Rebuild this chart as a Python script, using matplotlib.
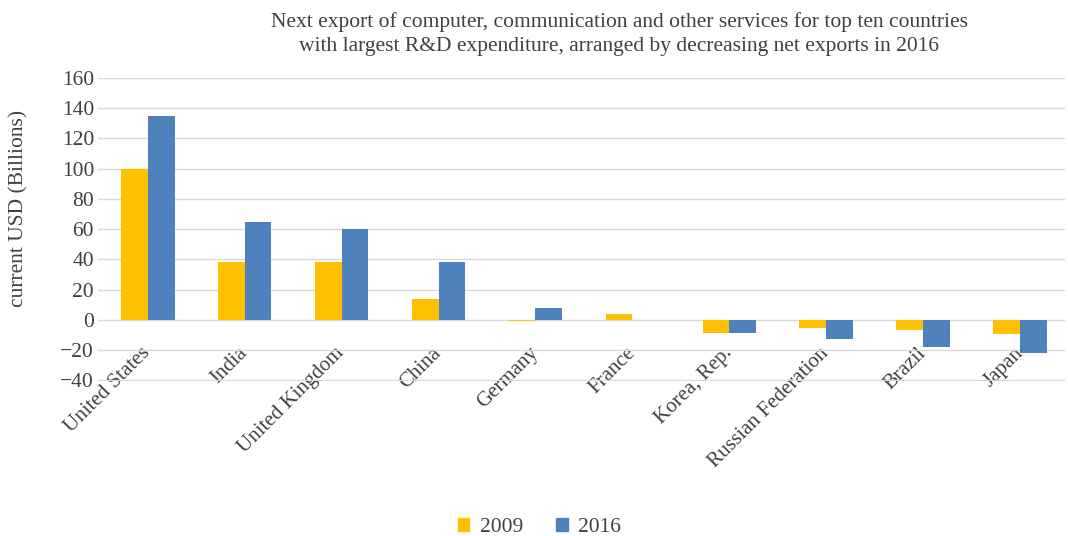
import numpy as np
import matplotlib
matplotlib.use('Agg')
import matplotlib.pyplot as plt
from matplotlib.patches import Patch

countries = ['United States', 'India', 'United Kingdom', 'China', 'Germany',
             'France', 'Korea, Rep.', 'Russian Federation', 'Brazil', 'Japan']
exports_2009 = [100, 38, 38.5, 14, -0.8, 4, -8.5, -5.2, -6.8, -9.2]
exports_2016 = [135, 65, 60, 38, 7.5, 0, -8.5, -12.8, -18, -21.7]

c2009 = '#FFC000'
c2016 = '#4F81BD'
txt = '#404040'

plt.rcParams['font.family'] = ['Liberation Serif', 'DejaVu Serif']

fig = plt.figure(figsize=(10.68, 5.36), dpi=100)
ax = fig.add_axes([0.092, 0.289, 0.905, 0.5655])

x = np.arange(len(countries))
w = 0.277
ax.bar(x - w / 2, exports_2009, w, color=c2009, zorder=3)
ax.bar(x + w / 2, exports_2016, w, color=c2016, zorder=3)

ax.set_ylim(-40.6, 160)
ax.set_xlim(-0.51, 9.46)
ax.set_yticks(np.arange(-40, 161, 20))
ax.grid(axis='y', color='#d9d9d9', linewidth=1, zorder=0)
for s in ax.spines.values():
    s.set_visible(False)
ax.tick_params(axis='both', length=0, colors=txt, labelsize=15.5)
ax.tick_params(axis='y', pad=3)

ax.set_xticks(x)
ax.set_xticklabels(countries, rotation=45, ha='right', va='center',
                   rotation_mode='anchor', fontsize=15)
ax.tick_params(axis='x', pad=-22)

ax.set_ylabel('current USD (Billions)', fontsize=15.5, color=txt)
ax.yaxis.set_label_coords(-0.072, 0.57)

fig.text(0.58, 0.978, 'Next export of computer, communication and other services for top ten countries\n'
         'with largest R&D expenditure, arranged by decreasing net exports in 2016',
         ha='center', va='top', fontsize=15.5, color=txt, linespacing=1.4)

handles = [Patch(color=c2009, label='2009'), Patch(color=c2016, label='2016')]
fig.legend(handles=handles, loc='lower center', bbox_to_anchor=(0.505, -0.038), ncol=2,
           frameon=False, fontsize=15.5, handlelength=0.55, handleheight=0.55,
           handletextpad=0.5, columnspacing=1.5, labelcolor=txt)

fig.savefig('out.png', dpi=100)
